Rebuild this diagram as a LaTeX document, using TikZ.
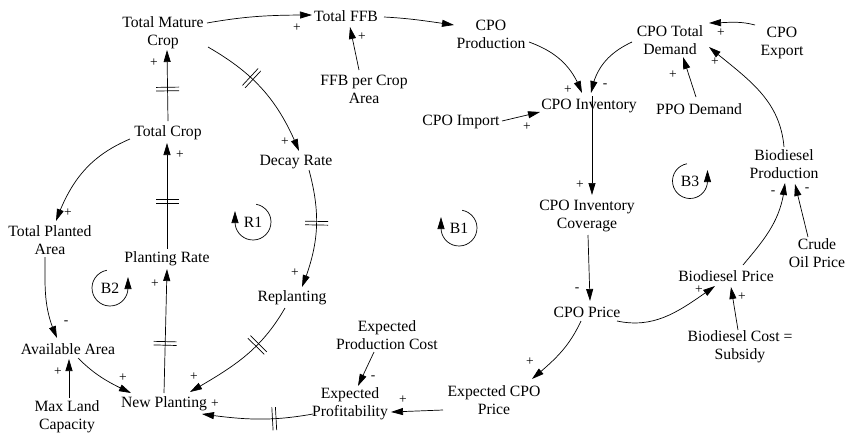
\documentclass[tikz,border=0pt]{standalone}
\usepackage{fontspec}
\setmainfont{Liberation Serif}
\usetikzlibrary{arrows.meta,decorations.markings,bending}
\begin{document}
\begin{tikzpicture}[x=1pt,y=1pt,
  v/.style={align=center, font=\fontsize{15.7}{18}\selectfont, inner sep=1pt, outer sep=0pt},
  lk/.style={-{Triangle[length=12pt,width=7pt]}, line width=0.7pt},
  sg/.style={font=\fontsize{13.5}{13.5}\selectfont, inner sep=0pt},
  delaymark/.style={postaction={decorate,decoration={markings, mark=at position #1 with {\draw[line width=0.7pt,-] (-1.8,-11.5) -- (-1.8,11.5) (1.8,-11.5) -- (1.8,11.5);}}}},
  lp/.style={font=\fontsize{15.7}{18}\selectfont, inner sep=0pt}
]
\useasboundingbox (0,-437) rectangle (847,0);
% variables
\node[v] (tmc) at (163,-33) {Total Mature\\Crop};
\node[v] (tffb) at (346,-16) {Total FFB};
\node[v] (cpop) at (491,-34) {CPO\\Production};
\node[v] (ffbpca) at (364,-89) {FFB per Crop\\Area};
\node[v] (cpoimp) at (461,-122) {CPO Import};
\node[v] (cpoinv) at (589,-106) {CPO Inventory};
\node[v] (cpotd) at (670,-40) {CPO Total\\Demand};
\node[v] (cpoexp) at (782,-43) {CPO\\Export};
\node[v] (ppo) at (699,-109) {PPO Demand};
\node[v] (biop) at (784,-164) {Biodiesel\\Production};
\node[v] (crude) at (817,-253) {Crude\\Oil Price};
\node[v] (biopr) at (726,-276) {Biodiesel Price};
\node[v] (biocost) at (740,-347) {Biodiesel Cost =\\Subsidy};
\node[v] (cpopr) at (587,-312) {CPO Price};
\node[v] (cpoic) at (587,-216) {CPO Inventory\\Coverage};
\node[v] (ecpop) at (494,-400) {Expected CPO\\Price};
\node[v] (eprof) at (350,-404) {Expected\\Profitability};
\node[v] (epc) at (387,-335) {Expected\\Production Cost};
\node[v] (np) at (164,-404) {New Planting};
\node[v] (mlc) at (67,-417) {Max Land\\Capacity};
\node[v] (aa) at (68,-349) {Available Area};
\node[v] (tpa) at (50,-240) {Total Planted\\Area};
\node[v] (pr) at (167,-259) {Planting Rate};
\node[v] (tc) at (168,-133) {Total Crop};
\node[v] (dr) at (296,-162) {Decay Rate};
\node[v] (rep) at (292,-298) {Replanting};
% links
\draw[lk] ([shift={(44,10)}]tmc.center) to[out=10,in=180] ([shift={(-34,1)}]tffb.center);
\draw[lk] ([shift={(38,-1)}]tffb.center) to[out=-3,in=172] ([shift={(-37,9)}]cpop.center);
\draw[lk] ([shift={(-5,19)}]ffbpca.center) -- ([shift={(4,-11)}]tffb.center);
\draw[lk] ([shift={(38,-8)}]cpop.center) to[out=-20,in=110] ([shift={(-7,13)}]cpoinv.center);
\draw[lk] ([shift={(-38,-2)}]cpotd.center) to[out=205,in=80] ([shift={(2,13)}]cpoinv.center);
\draw[lk] ([shift={(41,1)}]cpoimp.center) -- ([shift={(-49,-6)}]cpoinv.center);
\draw[lk] ([shift={(-27,18)}]cpoexp.center) to[out=165,in=0] ([shift={(39,17)}]cpotd.center);
\draw[lk] ([shift={(-3,12)}]ppo.center) -- ([shift={(13,-17)}]cpotd.center);
\draw[lk] ([shift={(0,17)}]biop.center) to[out=95,in=-40] ([shift={(39,-7)}]cpotd.center);
\draw[lk] ([shift={(3,10)}]cpoinv.center) -- ([shift={(5,21)}]cpoic.center);
\draw[lk] ([shift={(1,-19)}]cpoic.center) -- ([shift={(3,11)}]cpopr.center);
\draw[lk] ([shift={(30,-9)}]cpopr.center) to[out=-12,in=215] ([shift={(-11,-10)}]biopr.center);
\draw[lk] ([shift={(-2,17)}]biocost.center) -- ([shift={(5,-11)}]biopr.center);
\draw[lk] ([shift={(17,11)}]biopr.center) to[out=50,in=-95] ([shift={(1,-19)}]biop.center);
\draw[lk] ([shift={(-9,16)}]crude.center) -- ([shift={(11,-20)}]biop.center);
\draw[lk] ([shift={(-6,-9)}]cpopr.center) to[out=-115,in=40] ([shift={(38,21)}]ecpop.center);
\draw[lk] ([shift={(-51,-10)}]ecpop.center) -- ([shift={(41,-8)}]eprof.center);
\draw[lk] ([shift={(-13,-17)}]epc.center) -- ([shift={(8,18)}]eprof.center);
\draw[lk,delaymark=0.35] ([shift={(-37,-10)}]eprof.center) to[out=190,in=-8] ([shift={(38,-10)}]np.center);
\draw[lk] ([shift={(10,-9)}]aa.center) to[out=-45,in=155] ([shift={(-33,11)}]np.center);
\draw[lk] ([shift={(2,19)}]mlc.center) -- ([shift={(1,-10)}]aa.center);
\draw[lk] ([shift={(-5,-17)}]tpa.center) to[out=-90,in=115] ([shift={(-11,11)}]aa.center);
\draw[lk] ([shift={(-38,-6)}]tc.center) to[out=203,in=70] ([shift={(6,19)}]tpa.center);
\draw[lk,delaymark=0.45] ([shift={(0,10)}]pr.center) -- ([shift={(-1,-10)}]tc.center);
\draw[lk,delaymark=0.4] ([shift={(0,11)}]np.center) -- ([shift={(0,-10)}]pr.center);
\draw[lk,delaymark=0.45] ([shift={(0,12)}]tc.center) -- ([shift={(4,-17)}]tmc.center);
\draw[lk,delaymark=0.38] ([shift={(45,-14)}]tmc.center) to[out=-30,in=112] ([shift={(3,11)}]dr.center);
\draw[lk,delaymark=0.45] ([shift={(13,-8)}]dr.center) to[out=-75,in=68] ([shift={(10,11)}]rep.center);
\draw[lk,delaymark=0.36] ([shift={(-7,-10)}]rep.center) to[out=-120,in=30] ([shift={(26,12)}]np.center);
% polarities
\node[sg] (s1) at (297,-28) {+};
\node[sg] (s3) at (362,-37) {+};
\node[sg] (s4) at (568,-90) {+};
\node[sg] (s5) at (605,-86) {-};
\node[sg] (s6) at (527,-127) {+};
\node[sg] (s7) at (721,-33) {+};
\node[sg] (s8) at (673,-75) {+};
\node[sg] (s9) at (715,-62) {+};
\node[sg] (s10) at (580,-185) {+};
\node[sg] (s11) at (577,-290) {-};
\node[sg] (s12) at (699,-290) {+};
\node[sg] (s13) at (742,-297) {+};
\node[sg] (s14) at (773,-193) {-};
\node[sg] (s15) at (807,-190) {-};
\node[sg] (s16) at (530,-362) {+};
\node[sg] (s17) at (403,-400) {+};
\node[sg] (s18) at (373,-378) {-};
\node[sg] (s19) at (215,-404) {+};
\node[sg] (s20) at (123,-378) {+};
\node[sg] (s21) at (58,-372) {+};
\node[sg] (s22) at (66,-323) {-};
\node[sg] (s23) at (68,-213) {+};
\node[sg] (s24) at (180,-155) {+};
\node[sg] (s25) at (155,-284) {+};
\node[sg] (s26) at (154,-63) {+};
\node[sg] (s27) at (285,-142) {+};
\node[sg] (s28) at (295,-273) {+};
\node[sg] (s29) at (194,-377) {+};
% loop markers
\node[lp] (r1) at (253,-222) {R1};
\draw[lk] ([shift={(80:18)}]r1.center) arc[start angle=80,end angle=-180,radius=18] -- ++(0,11);
\node[lp] (b1) at (459,-228) {B1};
\draw[lk] ([shift={(80:18)}]b1.center) arc[start angle=80,end angle=-180,radius=18] -- ++(0,11);
\node[lp] (b2) at (110,-288) {B2};
\draw[lk] ([shift={(100:18)}]b2.center) arc[start angle=100,end angle=360,radius=18] -- ++(0,11);
\node[lp] (b3) at (690,-181) {B3};
\draw[lk] ([shift={(100:17.5)}]b3.center) arc[start angle=100,end angle=360,radius=17.5] -- ++(0,11);
\end{tikzpicture}
\end{document}
